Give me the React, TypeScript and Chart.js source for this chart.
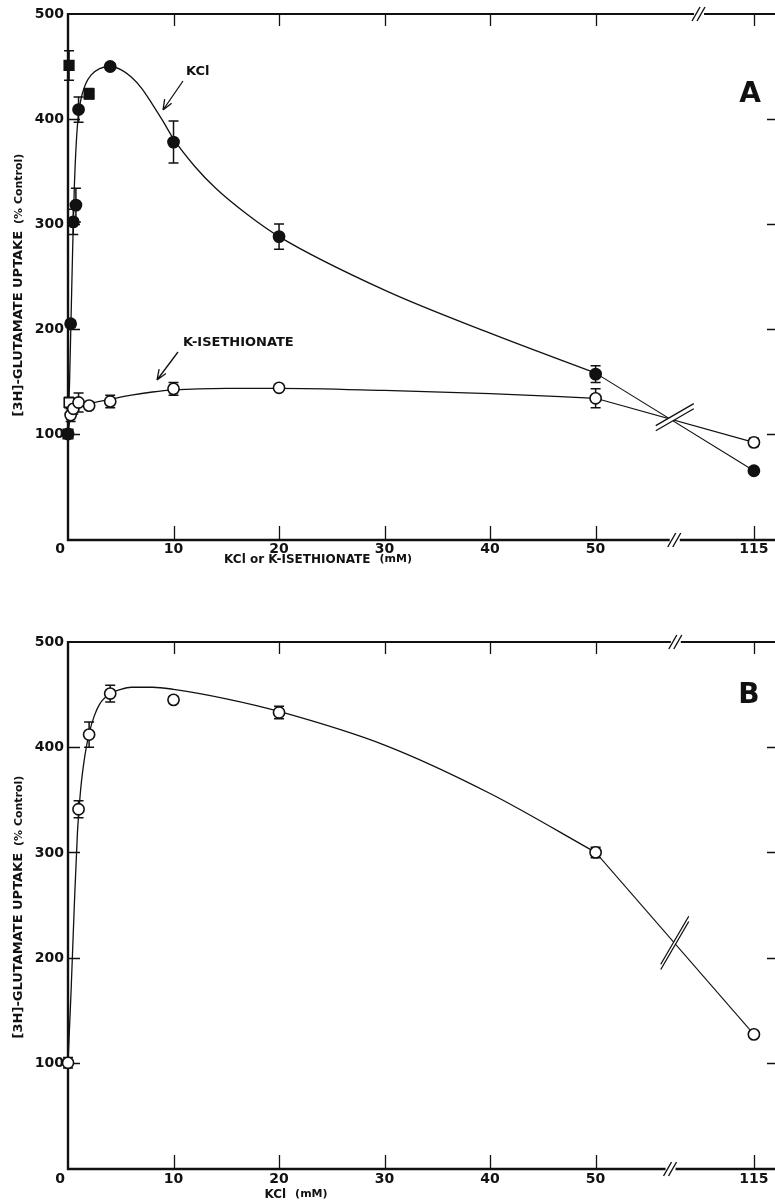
import React, { useEffect, useRef } from 'react';
import { Chart, registerables } from 'chart.js';
Chart.register(...registerables);

// ---------- Panel A data (mM, % control, error) ----------
const kclX = [0, 0.1, 0.25, 0.5, 0.75, 1, 2, 4, 10, 20, 50, 115];
const kclY = [100, 451, 205, 302, 318, 409, 424, 450, 378, 288, 157, 65];
const kclErr = [3, 14, 3, 12, 16, 12, 5, 3, 20, 12, 8, 3];
const kclSquares = [0, 0.1, 2];

const isoX = [0, 0.1, 0.25, 0.5, 1, 2, 4, 10, 20, 50, 115];
const isoY = [100, 130, 118, 124, 130, 127, 131, 143, 144, 134, 92];
const isoErr = [3, 5, 6, 5, 9, 3, 6, 6, 2, 9, 4];
const isoSquares = [0.1];

// fitted curves as drawn in panel A
const kclCurveX = [0, 0.15, 0.3, 0.45, 0.6, 0.8, 1.0, 1.3, 1.7, 2.2, 3, 4, 5, 6, 7, 8, 9, 10, 12, 14, 17, 20, 30, 40, 50];
const kclCurveY = [100, 150, 215, 280, 335, 380, 405, 422, 434, 442, 448, 450, 447, 440, 429, 414, 398, 381, 355, 334, 309, 288, 237, 196, 158];
const isoCurveX = [0, 0.1, 0.2, 0.35, 0.5, 0.8, 1.2, 2, 3, 4, 6, 8, 10, 15, 20, 30, 40, 50];
const isoCurveY = [100, 108, 114, 119, 122, 125, 127, 129, 131, 133, 137, 140, 142, 143.5, 143.5, 141.5, 138.5, 134];

// ---------- Panel B data ----------
const bX = [0, 1, 2, 4, 10, 20, 50, 115];
const bY = [100, 341, 412, 451, 445, 433, 300, 127];
const bErr = [5, 8, 12, 8, 3, 6, 5, 3];
const bCurveX = [0, 0.3, 0.6, 0.9, 1.2, 1.6, 2, 2.5, 3, 4, 5, 6, 8, 10, 15, 20, 30, 40, 50];
const bCurveY = [100, 170, 250, 320, 360, 392, 413, 430, 441, 451, 455, 457, 457, 455, 446, 434, 402, 356, 300];

// ---------- axis ----------
const xTickValues = [0, 10, 20, 30, 40, 50, 115];
const yTickValues = [100, 200, 300, 400, 500];
const INK = '#111';
const FONT = '"DejaVu Sans", "Liberation Sans", sans-serif';

// broken axis: 50 -> 115 is drawn compressed
function pos(x: number) {
  return x <= 50 ? x : 50 + (x - 50) * (15 / 65);
}

type PointSet = { xs: number[]; ys: number[]; errs: number[]; squares: number[]; filled: boolean };
type Curve = { xs: number[]; ys: number[] };
type Panel = {
  height: number;
  pad: { top: number; bottom: number };
  points: PointSet[];
  curves: Curve[];
  tails: { xs: number[]; ys: number[] }[];
  lineBreak: { x: number; y: number; dx: number; dy: number };
  topBreak: number;
  bottomBreak: number;
  xTitle: [string, string];
  xTitleX: number;
  xTitleY: number;
  yTitleY: number;
  xLabelDy: number;
  letter: string;
  letterPos: [number, number];
  notes: { text: string; x: number; y: number; arrow: [number, number, number, number] }[];
};

function tailOf(xs: number[], ys: number[], curveEnd: number) {
  const i50 = xs.indexOf(50);
  const i115 = xs.indexOf(115);
  return { xs: [xs[i50], xs[i115]], ys: [curveEnd, ys[i115]] };
}

const panelA: Panel = {
  height: 600,
  pad: { top: 14, bottom: 61 },
  points: [
    { xs: kclX, ys: kclY, errs: kclErr, squares: kclSquares, filled: true },
    { xs: isoX, ys: isoY, errs: isoErr, squares: isoSquares, filled: false },
  ],
  curves: [
    { xs: kclCurveX, ys: kclCurveY },
    { xs: isoCurveX, ys: isoCurveY },
  ],
  tails: [
    tailOf(kclX, kclY, kclCurveY[kclCurveY.length - 1]),
    tailOf(isoX, isoY, isoCurveY[isoCurveY.length - 1]),
  ],
  lineBreak: { x: 57.5, y: 116, dx: 19, dy: 11 },
  topBreak: 59.8,
  bottomBreak: 57.5,
  xTitle: ['KCl or K-ISETHIONATE', '(mM)'],
  xTitleX: 318,
  xTitleY: 560,
  yTitleY: 285,
  xLabelDy: 10,
  letter: 'A',
  letterPos: [750, 95],
  notes: [
    { text: 'KCl', x: 186, y: 72, arrow: [183, 81, 163, 110] },
    { text: 'K-ISETHIONATE', x: 183, y: 343, arrow: [178, 352, 157, 380] },
  ],
};

const panelB: Panel = {
  height: 604,
  pad: { top: 42, bottom: 36 },
  points: [{ xs: bX, ys: bY, errs: bErr, squares: [], filled: false }],
  curves: [{ xs: bCurveX, ys: bCurveY }],
  tails: [tailOf(bX, bY, bCurveY[bCurveY.length - 1])],
  lineBreak: { x: 57.5, y: 214, dx: 14, dy: 24 },
  topBreak: 57.6,
  bottomBreak: 57.1,
  xTitle: ['KCl', '(mM)'],
  xTitleX: 296,
  xTitleY: 595,
  yTitleY: 307,
  xLabelDy: 11,
  letter: 'B',
  letterPos: [749, 96],
  notes: [],
};

function makePlugin(p: Panel) {
  return {
    id: 'panelDecor',
    beforeDatasetsDraw(chart: any) {
      const ctx = chart.ctx;
      const { left, right, top, bottom } = chart.chartArea;
      const xs = chart.scales.x;
      const ys = chart.scales.y;
      ctx.save();
      ctx.strokeStyle = INK;
      // frame
      ctx.lineWidth = 2.4;
      ctx.beginPath();
      ctx.moveTo(left, top - 1);
      ctx.lineTo(left, bottom + 1);
      ctx.lineTo(right, bottom + 1);
      ctx.stroke();
      ctx.lineWidth = 2;
      ctx.beginPath();
      ctx.moveTo(left, top);
      ctx.lineTo(right, top);
      ctx.stroke();
      // ticks
      ctx.lineWidth = 1.3;
      xTickValues.forEach((v) => {
        if (v === 0) return;
        const x = Math.round(xs.getPixelForValue(pos(v))) + 0.5;
        ctx.beginPath();
        ctx.moveTo(x, top);
        ctx.lineTo(x, top + 12);
        ctx.moveTo(x, bottom);
        ctx.lineTo(x, bottom - 13);
        ctx.stroke();
      });
      yTickValues.forEach((v) => {
        if (v === 500) return;
        const y = Math.round(ys.getPixelForValue(v)) + 0.5;
        ctx.beginPath();
        ctx.moveTo(left, y);
        ctx.lineTo(left + 12, y);
        ctx.moveTo(right - 8, y);
        ctx.lineTo(right, y);
        ctx.stroke();
      });
      // error bars
      ctx.lineWidth = 1.5;
      chart.data.datasets.forEach((ds: any, di: number) => {
        if (!ds.errorBars) return;
        const meta = chart.getDatasetMeta(di);
        meta.data.forEach((el: any, i: number) => {
          const raw = ds.data[i];
          const y1 = ys.getPixelForValue(raw.y + raw.e);
          const y2 = ys.getPixelForValue(raw.y - raw.e);
          ctx.beginPath();
          ctx.moveTo(el.x, y1);
          ctx.lineTo(el.x, y2);
          ctx.moveTo(el.x - 5, y1);
          ctx.lineTo(el.x + 5, y1);
          ctx.moveTo(el.x - 5, y2);
          ctx.lineTo(el.x + 5, y2);
          ctx.stroke();
        });
      });
      ctx.restore();
    },
    afterDatasetsDraw(chart: any) {
      const ctx = chart.ctx;
      const { left, top, bottom } = chart.chartArea;
      const xs = chart.scales.x;
      const ys = chart.scales.y;
      ctx.save();
      ctx.fillStyle = INK;
      ctx.strokeStyle = INK;

      // break on the data lines
      const bx = xs.getPixelForValue(p.lineBreak.x);
      const by = ys.getPixelForValue(p.lineBreak.y);
      const { dx, dy } = p.lineBreak;
      const off = 2.6;
      ctx.fillStyle = '#fff';
      ctx.beginPath();
      ctx.moveTo(bx - dx, by + dy - off);
      ctx.lineTo(bx + dx, by - dy - off);
      ctx.lineTo(bx + dx, by - dy + off);
      ctx.lineTo(bx - dx, by + dy + off);
      ctx.closePath();
      ctx.fill();
      ctx.lineWidth = 1.3;
      ctx.beginPath();
      ctx.moveTo(bx - dx, by + dy - off);
      ctx.lineTo(bx + dx, by - dy - off);
      ctx.moveTo(bx - dx, by + dy + off);
      ctx.lineTo(bx + dx, by - dy + off);
      ctx.stroke();

      // axis breaks
      const axisBreak = (xv: number, y: number) => {
        const cx = xs.getPixelForValue(xv);
        ctx.fillStyle = '#fff';
        ctx.fillRect(cx - 5, y - 3, 10, 6);
        ctx.lineWidth = 1.4;
        ctx.beginPath();
        ctx.moveTo(cx - 7, y + 7);
        ctx.lineTo(cx + 1, y - 7);
        ctx.moveTo(cx - 2, y + 7);
        ctx.lineTo(cx + 6, y - 7);
        ctx.stroke();
      };
      axisBreak(p.topBreak, top);
      axisBreak(p.bottomBreak, bottom + 1);

      ctx.fillStyle = INK;
      // tick labels
      ctx.font = `bold 14px ${FONT}`;
      ctx.textBaseline = 'middle';
      ctx.textAlign = 'center';
      xTickValues.forEach((v) => {
        const x = v === 0 ? left - 8 : xs.getPixelForValue(pos(v));
        ctx.fillText(String(v), x, bottom + p.xLabelDy);
      });
      ctx.textAlign = 'right';
      yTickValues.forEach((v) => {
        ctx.fillText(String(v), left - 4, ys.getPixelForValue(v) + 0.5);
      });

      // x title
      ctx.textBaseline = 'middle';
      ctx.textAlign = 'left';
      ctx.font = `bold 12px ${FONT}`;
      const w1 = ctx.measureText(p.xTitle[0]).width;
      ctx.font = `bold 11px ${FONT}`;
      const w2 = ctx.measureText(p.xTitle[1]).width;
      const gap = 9;
      const sx = p.xTitleX - (w1 + gap + w2) / 2;
      ctx.font = `bold 12px ${FONT}`;
      ctx.fillText(p.xTitle[0], sx, p.xTitleY);
      ctx.font = `bold 11px ${FONT}`;
      ctx.fillText(p.xTitle[1], sx + w1 + gap, p.xTitleY - 1);

      // y title
      ctx.save();
      ctx.translate(19, p.yTitleY);
      ctx.rotate(-Math.PI / 2);
      const t1 = '[3H]-GLUTAMATE UPTAKE';
      const t2 = '(% Control)';
      ctx.font = `bold 13px ${FONT}`;
      const m1 = ctx.measureText(t1).width;
      ctx.font = `bold 11px ${FONT}`;
      const m2 = ctx.measureText(t2).width;
      const s0 = -(m1 + 7 + m2) / 2;
      ctx.font = `bold 13px ${FONT}`;
      ctx.fillText(t1, s0, 0);
      ctx.font = `bold 11px ${FONT}`;
      ctx.fillText(t2, s0 + m1 + 7, 0);
      ctx.restore();

      // panel letter
      ctx.font = `bold 28px ${FONT}`;
      ctx.textAlign = 'center';
      ctx.fillText(p.letter, p.letterPos[0], p.letterPos[1]);

      // series notes with arrows
      ctx.textAlign = 'left';
      ctx.font = `bold 13px ${FONT}`;
      ctx.lineWidth = 1.3;
      p.notes.forEach((n) => {
        ctx.fillText(n.text, n.x, n.y);
        const [x1, y1, x2, y2] = n.arrow;
        ctx.beginPath();
        ctx.moveTo(x1, y1);
        ctx.lineTo(x2, y2);
        const ang = Math.atan2(y1 - y2, x1 - x2);
        const hl = 11;
        ctx.moveTo(x2, y2);
        ctx.lineTo(x2 + hl * Math.cos(ang - 0.45), y2 + hl * Math.sin(ang - 0.45));
        ctx.moveTo(x2, y2);
        ctx.lineTo(x2 + hl * Math.cos(ang + 0.3), y2 + hl * Math.sin(ang + 0.3));
        ctx.stroke();
      });
      ctx.restore();
    },
  };
}

function buildDatasets(p: Panel) {
  const ds: any[] = [];
  p.points.forEach((s) => {
    ds.push({
      type: 'line',
      showLine: false,
      clip: false,
      errorBars: true,
      data: s.xs.map((x, i) => ({ x: pos(x), y: s.ys[i], e: s.errs[i], sq: s.squares.includes(x) })),
      pointStyle: (c: any) => (c.raw && c.raw.sq ? 'rect' : 'circle'),
      pointRadius: (c: any) => (c.raw && c.raw.sq ? 6.8 : 5.6),
      pointBackgroundColor: s.filled ? INK : '#fff',
      pointBorderColor: INK,
      pointBorderWidth: 1.6,
    });
  });
  p.curves.forEach((c) => {
    ds.push({
      type: 'line',
      data: c.xs.map((x, i) => ({ x: pos(x), y: c.ys[i] })),
      borderColor: INK,
      borderWidth: 1.3,
      pointRadius: 0,
      cubicInterpolationMode: 'monotone',
      fill: false,
      clip: false,
    });
  });
  p.tails.forEach((t) => {
    ds.push({
      type: 'line',
      data: t.xs.map((x, i) => ({ x: pos(x), y: t.ys[i] })),
      borderColor: INK,
      borderWidth: 1.1,
      pointRadius: 0,
      tension: 0,
      fill: false,
    });
  });
  return ds;
}

function PanelChart({ panel }: { panel: Panel }) {
  const ref = useRef<HTMLCanvasElement | null>(null);
  useEffect(() => {
    if (!ref.current) return;
    const chart = new Chart(ref.current, {
      type: 'line',
      data: { datasets: buildDatasets(panel) },
      options: {
        responsive: false,
        animation: false,
        events: [],
        layout: { autoPadding: false, padding: { left: 68, right: 0, top: panel.pad.top, bottom: panel.pad.bottom } },
        plugins: { legend: { display: false }, tooltip: { enabled: false }, title: { display: false } },
        scales: {
          x: { type: 'linear', min: 0, max: 67, display: false },
          y: { type: 'linear', min: 0, max: 500, display: false },
        },
      } as any,
      plugins: [makePlugin(panel) as any],
    });
    return () => chart.destroy();
  }, [panel]);
  return (
    <canvas
      ref={ref}
      width={775}
      height={panel.height}
      style={{ display: 'block', width: 775, height: panel.height }}
    />
  );
}

export default function App() {
  return (
    <div style={{ position: 'absolute', left: 0, top: 0, width: 775, height: 1204, background: '#fff' }}>
      <PanelChart panel={panelA} />
      <PanelChart panel={panelB} />
    </div>
  );
}
